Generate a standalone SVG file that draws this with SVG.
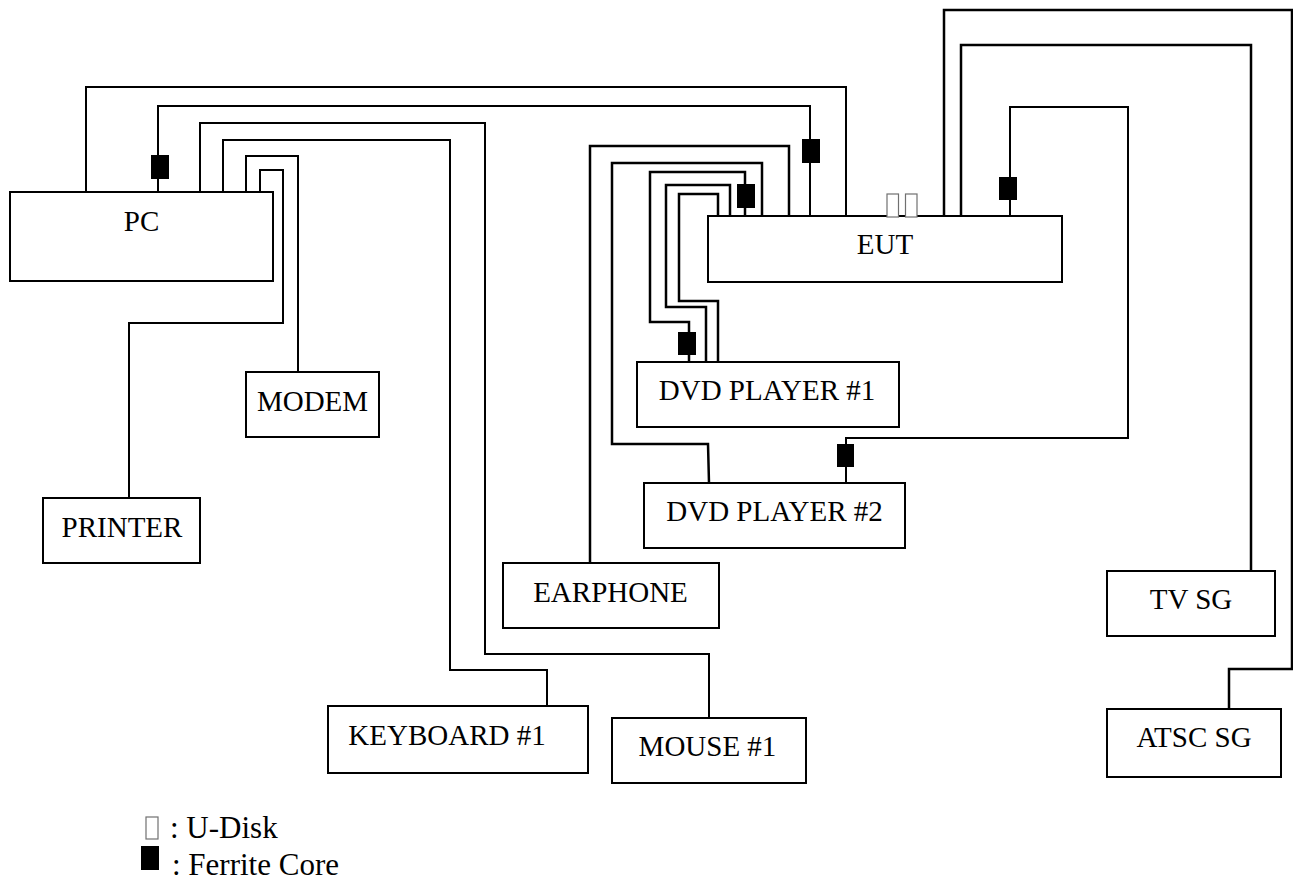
<svg xmlns="http://www.w3.org/2000/svg" width="1293" height="882" viewBox="0 0 1293 882">
<style>
text{font-family:"Liberation Serif","Times New Roman",serif;font-size:29px;fill:#000}
.c{text-anchor:middle}
.l{font-size:31px}
.box{fill:#fff;stroke:#000;stroke-width:2}
.w{fill:none;stroke:#000;stroke-width:2}
.t{fill:none;stroke:#000;stroke-width:2.5}
.f{fill:#000}
.u{fill:#fff;stroke:#707070;stroke-width:1.2}
</style>
<rect width="1293" height="882" fill="#fff"/>
<g id="connectors">
<path class="w" d="M86 192V87H846V216"/>
<path class="w" d="M158 192V106H810V216"/>
<path class="w" d="M200 192V123H485V654H709V718"/>
<path class="w" d="M223 192V140H450V670H547V706"/>
<path class="w" d="M246 192V156H298V372"/>
<path class="w" d="M260 192V170H283V323H129V498"/>
<path class="t" d="M789 216V146H590V563"/>
<path class="t" d="M762 216V163H612V444H708L709 483"/>
<path class="t" d="M745 216V172H650V322H689V362"/>
<path class="t" d="M730 216V185H666V307H706V362"/>
<path class="t" d="M718 216V194H679V301H718V362"/>
<path class="t" d="M944 216V10H1292V669H1229V709"/>
<path class="t" d="M961 216V45H1251V571"/>
<path class="w" d="M1010 216V107H1128V438H846V483"/>
</g>
<g id="ferrites">
<rect class="f" x="151" y="155" width="18" height="24"/>
<rect class="f" x="802" y="139" width="18" height="24"/>
<rect class="f" x="737" y="184" width="18" height="24"/>
<rect class="f" x="678" y="332" width="18" height="23"/>
<rect class="f" x="999" y="177" width="18" height="23"/>
<rect class="f" x="837" y="444" width="17" height="23"/>
</g>
<g id="pc"><rect class="box" x="10" y="192" width="263" height="89"/><text class="c" x="141.500" y="231">PC</text></g>
<g id="eut"><rect class="box" x="708" y="216" width="354" height="66"/><text class="c" x="885" y="254">EUT</text></g>
<g id="udisks"><rect class="u" x="887" y="194" width="11.500" height="23"/><rect class="u" x="905.500" y="194" width="11.500" height="23"/></g>
<g id="modem"><rect class="box" x="246" y="372" width="133" height="65"/><text class="c" x="312.500" y="411">MODEM</text></g>
<g id="printer"><rect class="box" x="43" y="498" width="157" height="65"/><text class="c" x="122" y="537">PRINTER</text></g>
<g id="dvd1"><rect class="box" x="637" y="362" width="262" height="65"/><text class="c" x="767" y="400">DVD PLAYER #1</text></g>
<g id="dvd2"><rect class="box" x="644" y="483" width="261" height="65"/><text class="c" x="774.500" y="521">DVD PLAYER #2</text></g>
<g id="earphone"><rect class="box" x="503" y="563" width="216" height="65"/><text class="c" x="610.500" y="602">EARPHONE</text></g>
<g id="tvsg"><rect class="box" x="1107" y="571" width="168" height="65"/><text class="c" x="1191" y="609">TV SG</text></g>
<g id="atscsg"><rect class="box" x="1107" y="709" width="174" height="68"/><text class="c" x="1194" y="747">ATSC SG</text></g>
<g id="keyboard"><rect class="box" x="328" y="706" width="260" height="67"/><text class="c" x="447" y="745">KEYBOARD #1</text></g>
<g id="mouse"><rect class="box" x="612" y="718" width="194" height="65"/><text class="c" x="707.500" y="756">MOUSE #1</text></g>
<g id="legend">
<rect class="u" x="146" y="817" width="12" height="22"/>
<text class="l" x="170" y="838">: U-Disk</text>
<rect class="f" x="141" y="846" width="18" height="24"/>
<text class="l" x="172" y="875">: Ferrite Core</text>
</g>
</svg>
